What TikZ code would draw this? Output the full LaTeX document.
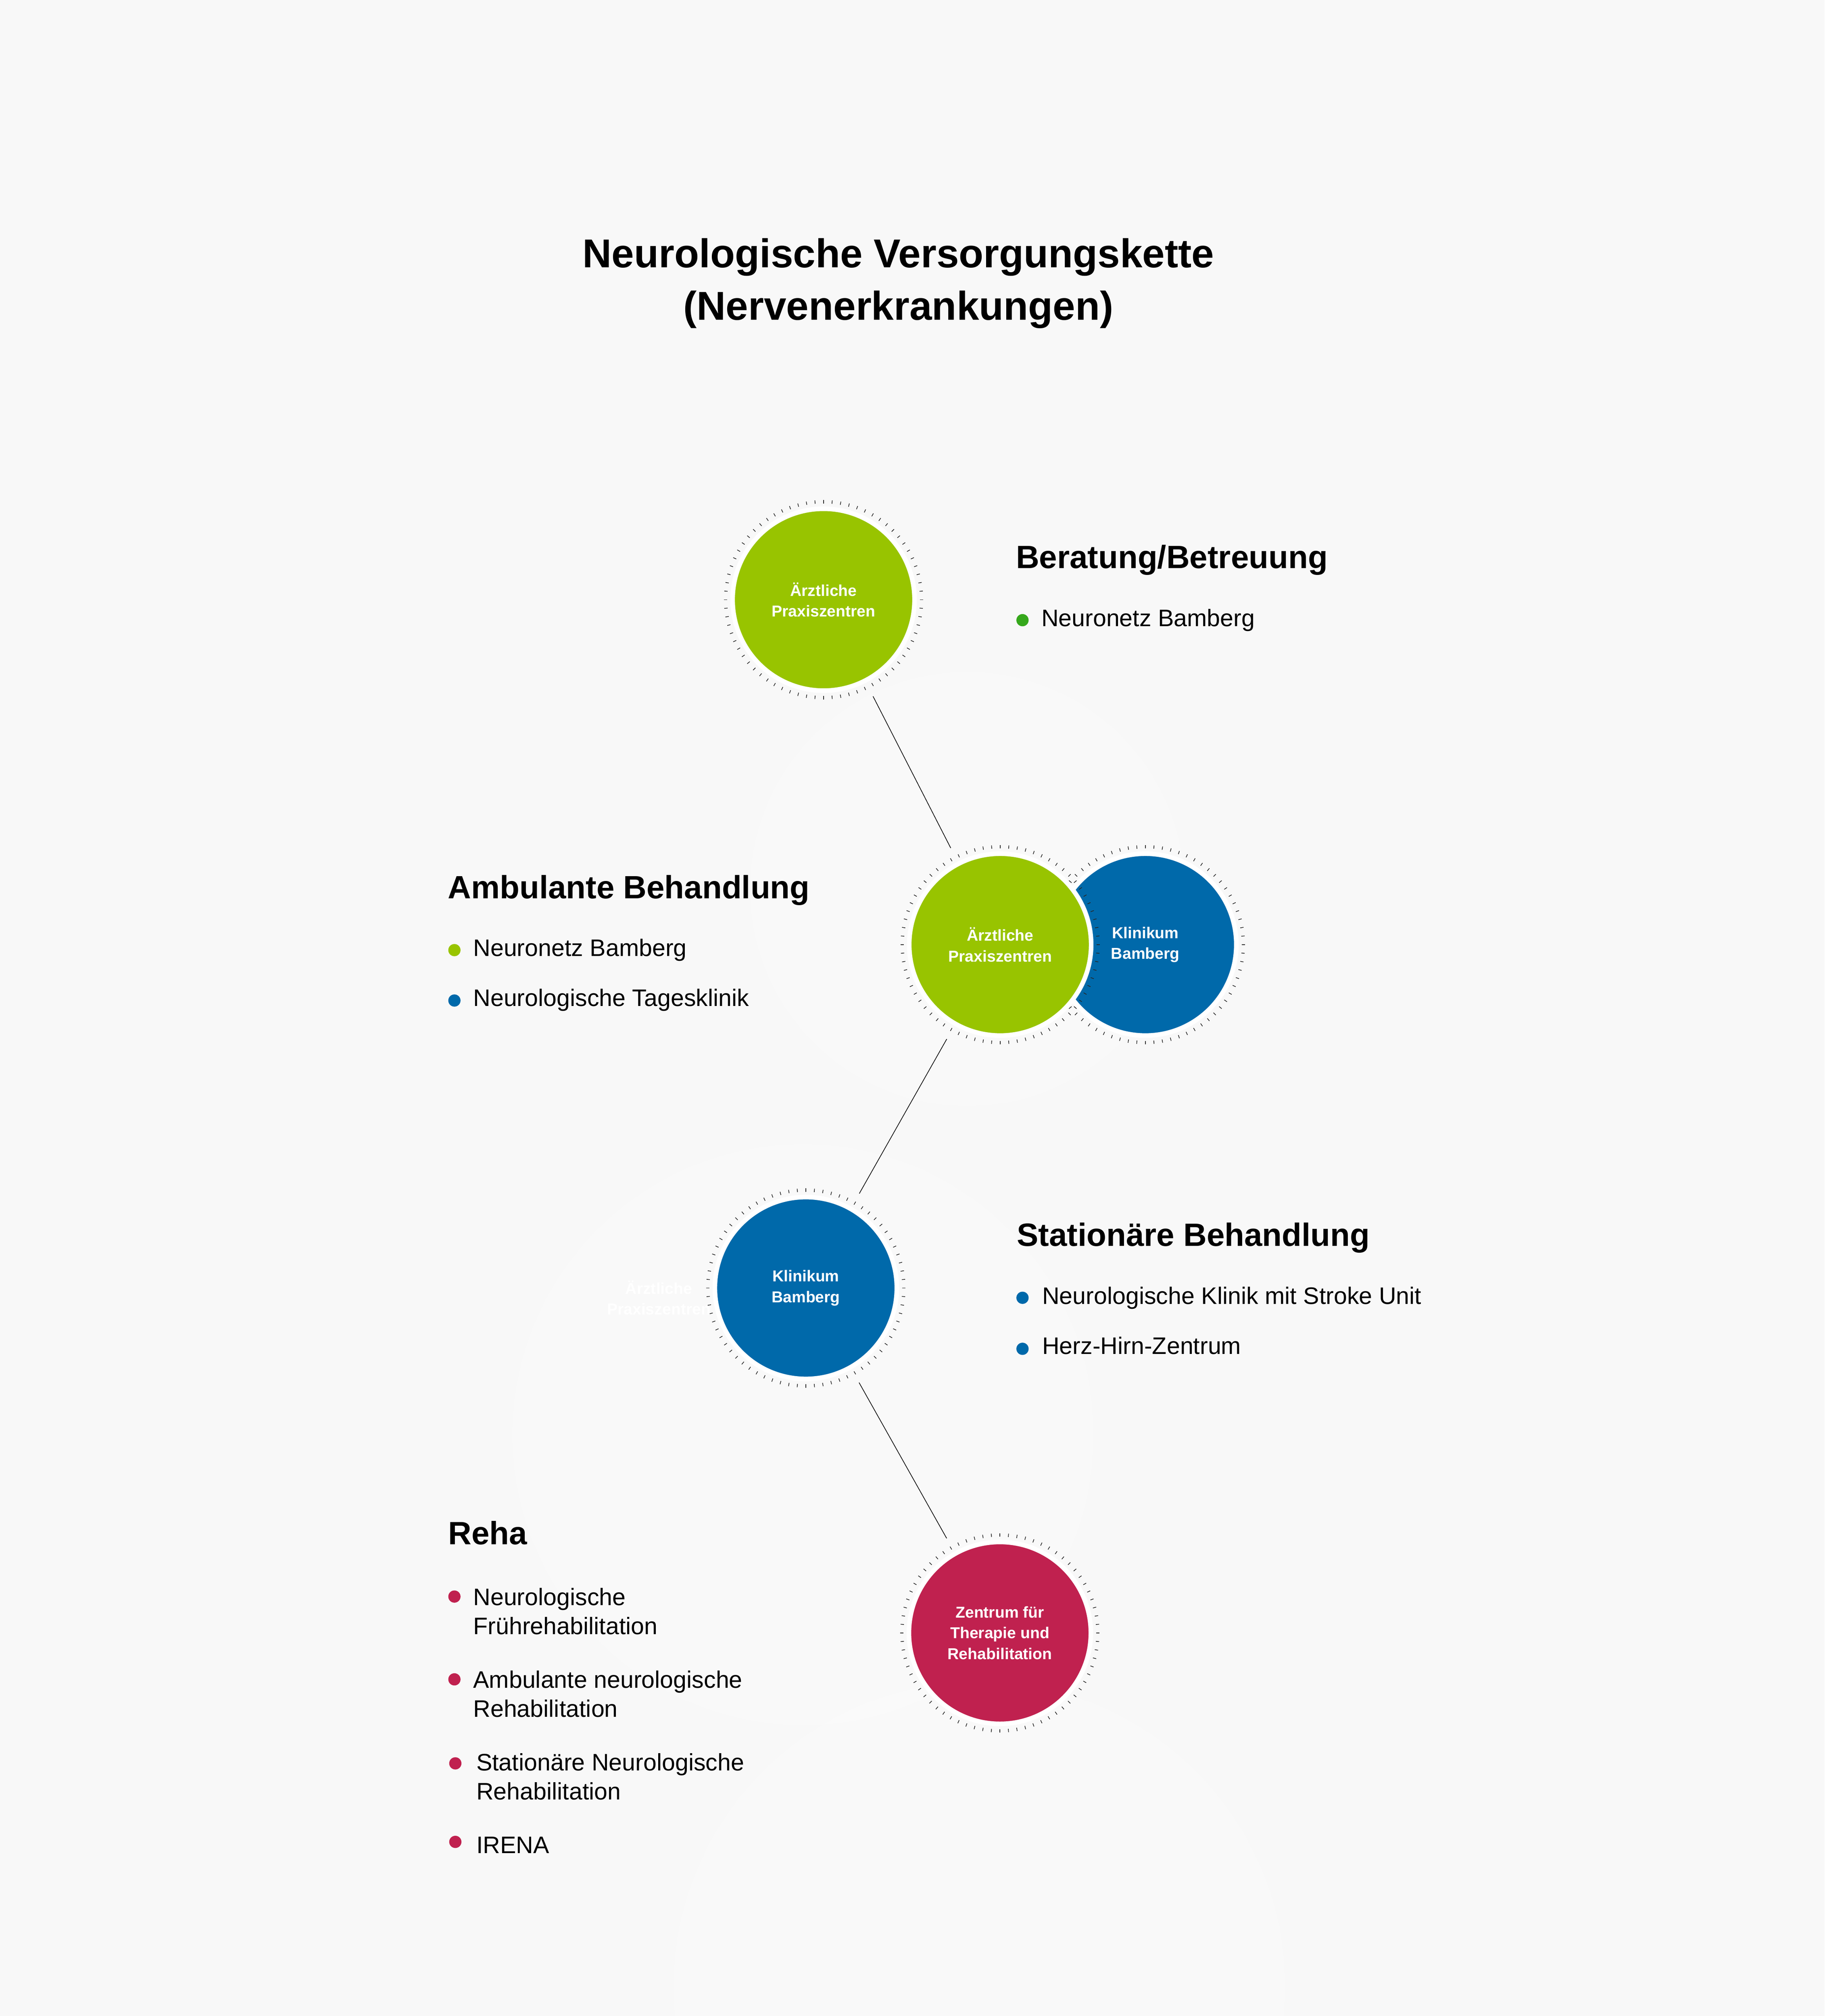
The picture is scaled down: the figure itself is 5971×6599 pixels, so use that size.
\documentclass[tikz,border=0pt]{standalone}
\usepackage{fontspec}
\setmainfont{Liberation Sans}
\definecolor{bgGrey}{HTML}{F8F8F8}
\definecolor{neuroGreen}{HTML}{98C400}
\definecolor{leafGreen}{HTML}{36A81C}
\definecolor{neuroBlue}{HTML}{0069AA}
\definecolor{neuroRed}{HTML}{C0214F}
\begin{document}
\begin{tikzpicture}[x=0.01cm,y=-0.01cm]
	\tikzset{
	  pics/tickring/.style={code={
		\foreach \a in {0,5,...,355}
		  \draw[line width=0.6pt,black!85] (\a:3.15cm) -- (\a:3.26cm);
		},
	  }
	}

          \tikzset{
            station/.style={circle,minimum size=5.95cm,inner sep=0mm,
              draw=white,line width=0.15cm,text=white,align=center,
              font=\bfseries\fontsize{14.7}{19.3}\selectfont},
            bullet/.style={circle,minimum size=0.4cm,inner sep=0mm,fill=#1},
            item/.style={anchor=base west,align=left,inner sep=0mm,
              font=\fontsize{22.2}{27}\selectfont},
            head/.style={anchor=base west,inner sep=0mm,
              font=\bfseries\fontsize{30}{36}\selectfont},
            link/.style={line width=0.6pt,shorten <=0.5cm,shorten >=0.5cm},
            glow/.style={fill=white,fill opacity=0.22}
          }

        %BACKGROUND
        \useasboundingbox (0,0) rectangle (5971,6599);
        \fill[bgGrey] (0,0) rectangle (5971,6599);
        \fill[glow] (3165,2910) circle (7.1cm);
        \fill[glow] (2628,4696) circle (9.5cm);
        \fill[glow] (3205,6505) circle (10cm);

        %TITLE (base = last line)
        \node[anchor=base,align=center,inner sep=0mm,
          font=\bfseries\fontsize{37.5}{48.6}\selectfont] (title) at (2940,1047)
          {Neurologische Versorgungskette\\(Nervenerkrankungen)};

        %CIRCLES
        \node[station,fill=neuroGreen] (praxisTop) at (2695,1963) {Ärztliche\\Praxiszentren};
        \pic at (praxisTop) {tickring};
        \node[station,fill=neuroBlue] (klinikMid) at (3748,3092) {Klinikum\\Bamberg};
        \pic at (klinikMid) {tickring};
        \node[station,fill=neuroGreen] (praxisMid) at (3273,3092) {Ärztliche\\Praxiszentren};
        \pic at (praxisMid) {tickring};
        \node[station,fill=neuroBlue] (klinikLow) at (2637,4216) {Klinikum\\Bamberg};
        \pic at (klinikLow) {tickring};
        \node[station,fill=neuroRed] (zentrum) at (3272,5345) {Zentrum für\\Therapie und\\Rehabilitation};
        \pic at (zentrum) {tickring};
        \node[text=white,align=center,font=\bfseries\fontsize{14.7}{19.3}\selectfont]
          (ghost) at (2156,4248) {Ärztliche\\Praxiszentren};

        %LINKS
        \draw[link] (praxisTop) -- (praxisMid);
        \draw[link] (praxisMid) -- (klinikLow);
        \draw[link] (klinikLow) -- (zentrum);

        %BERATUNG
        \node[head] (berat) at (3324,1860) {Beratung/Betreuung};
        \node[bullet=leafGreen] (beratDotA) at (3346,2030) {};
        \node[item] (beratA) at (3407,2050) {Neuronetz Bamberg};

        %AMBULANT
        \node[head] (ambul) at (1465,2941) {Ambulante Behandlung};
        \node[bullet=neuroGreen] (ambulDotA) at (1487,3110) {};
        \node[item] (ambulA) at (1548,3130) {Neuronetz Bamberg};
        \node[bullet=neuroBlue] (ambulDotB) at (1487,3275) {};
        \node[item] (ambulB) at (1548,3294) {Neurologische Tagesklinik};

        %STATIONAER
        \node[head] (stat) at (3327,4079) {Stationäre Behandlung};
        \node[bullet=neuroBlue] (statDotA) at (3346,4248) {};
        \node[item] (statA) at (3410,4269) {Neurologische Klinik mit Stroke Unit};
        \node[bullet=neuroBlue] (statDotB) at (3346,4415) {};
        \node[item] (statB) at (3410,4433) {Herz-Hirn-Zentrum};

        %REHA (base = last line)
        \node[head] (reha) at (1466,5056) {Reha};
        \node[bullet=neuroRed] (rehaDotA) at (1487,5226) {};
        \node[item] (rehaA) at (1548,5350) {Neurologische\\Frührehabilitation};
        \node[bullet=neuroRed] (rehaDotB) at (1487,5497) {};
        \node[item] (rehaB) at (1548,5620) {Ambulante neurologische\\Rehabilitation};
        \node[bullet=neuroRed] (rehaDotC) at (1490,5772) {};
        \node[item] (rehaC) at (1558,5891) {Stationäre Neurologische\\Rehabilitation};
        \node[bullet=neuroRed] (rehaDotD) at (1490,6029) {};
        \node[item] (rehaD) at (1558,6067) {IRENA};
    \end{tikzpicture}
\end{document}
